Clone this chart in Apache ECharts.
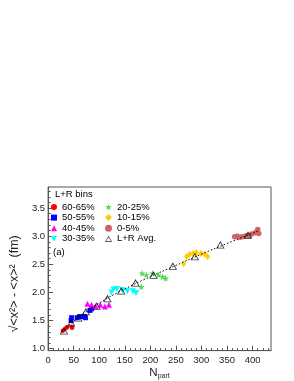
<!DOCTYPE html>
<html><head><meta charset="utf-8">
<script src="https://cdn.jsdelivr.net/npm/echarts@6/dist/echarts.min.js"></script>
<style>html,body{margin:0;padding:0;background:#fff}#c{width:294px;height:381px}</style>
</head><body><div id="c"></div><script>
const FONT = 'Liberation Sans';
const binNames = ['60-65%','50-55%','40-45%','30-35%','20-25%','10-15%','0-5%'];
const avgName = 'L+R Avg.';
const d60_65 = [[29,1.32],[34,1.36],[37,1.38],[46,1.39],[47,1.37]];
const d50_55 = [[45,1.50],[46,1.55],[57,1.55],[62,1.57],[71,1.57],[73,1.55],[82,1.68],[85,1.71]];
const d40_45 = [[77,1.80],[85,1.78],[93,1.76],[102,1.78],[111,1.75],[119,1.78]];
const d30_35 = [[124,2.00],[128,2.05],[135,2.06],[146,2.04],[155,2.02],[166,2.02],[172,1.99]];
const d20_25 = [[182,2.10],[184,2.34],[192,2.31],[204,2.34],[216,2.31],[224,2.28],[230,2.25]];
const d10_15 = [[265,2.51],[271,2.64],[277,2.68],[284,2.69],[290,2.71],[299,2.69],[306,2.68],[312,2.64]];
const d0_5 = [[365,2.99],[370,3.00],[375,2.98],[380,2.99],[387,3.01],[393,3.01],[398,3.04],[405,3.06],[410,3.12],[412,3.05]];
const avgLR = [[31,1.32],[45,1.46],[59,1.55],[74,1.66],[95,1.76],[116,1.89],[143,2.03],[171,2.17],[206,2.31],[244,2.47],[287,2.64],[337,2.85],[391,3.02]];
const fitLine = [[26,1.29],[60,1.56],[100,1.81],[150,2.06],[200,2.28],[250,2.48],[300,2.68],[350,2.87],[413,3.10]];
const xMajorTicks = [0,50,100,150,200,250,300,350,400];
const xMinorTicks = [10,20,30,40,60,70,80,90,110,120,130,140,160,170,180,190,210,220,230,240,260,270,280,290,310,320,330,340,360,370,380,390,410,420,430];
const yMajorTicks = [1.0,1.5,2.0,2.5,3.0,3.5];
const yMinorTicks = [1.1,1.2,1.3,1.4,1.6,1.7,1.8,1.9,2.1,2.2,2.3,2.4,2.6,2.7,2.8,2.9,3.1,3.2,3.3,3.4,3.6,3.7,3.8];
const X_MIN = 0, X_MAX = 436, Y_MIN = 0.965, Y_MAX = 3.875;

const STAR = 'path://M50,0 L61,35 L98,35 L68,57 L79,91 L50,70 L21,91 L32,57 L2,35 L39,35 Z';
const DOWN = 'path://M0,0 L10,0 L5,9 Z';
const OPEN_TRI = 'path://M5,0 L10,9 L0,9 Z M5,2.3 L1.5,8.1 L8.5,8.1 Z';
const axisCol = '#555';

const chart = echarts.init(document.getElementById('c'), null, {renderer:'canvas'});
function sc(name, data, symbol, size, color) {
  return {name, type:'scatter', data, symbol, symbolSize:size, itemStyle:{color, opacity:1}, z:3};
}
const legendText = {fontSize:9.5, color:'#000', fontFamily:FONT, lineHeight:10};
const option = {
  animation:false,
  textStyle:{fontFamily:FONT},
  grid:{left:35, right:23, top:187, bottom:29, show:true, borderColor:axisCol, borderWidth:1},
  xAxis:[
    {type:'value', min:X_MIN, max:X_MAX, position:'bottom',
     axisLine:{show:true, lineStyle:{color:axisCol}},
     axisTick:{show:true, inside:true, length:5, customValues:xMajorTicks, lineStyle:{color:axisCol}},
     axisLabel:{customValues:xMajorTicks, fontSize:9.5, color:'#222', margin:5, fontFamily:FONT},
     splitLine:{show:false},
     name:'{n|N}{s|part}', nameLocation:'middle', nameGap:12,
     nameTextStyle:{rich:{n:{fontSize:11.5, color:'#222', fontFamily:FONT}, s:{fontSize:7, color:'#222', fontFamily:FONT, padding:[8,0,0,0]}}}},
    {type:'value', min:X_MIN, max:X_MAX, position:'bottom',
     axisLine:{show:false},
     axisTick:{show:true, inside:true, length:2.5, customValues:xMinorTicks, lineStyle:{color:axisCol}},
     axisLabel:{show:false}, splitLine:{show:false}}
  ],
  yAxis:[
    {type:'value', min:Y_MIN, max:Y_MAX, position:'left',
     axisLine:{show:true, lineStyle:{color:axisCol}},
     axisTick:{show:true, inside:true, length:5, customValues:yMajorTicks, lineStyle:{color:axisCol}},
     axisLabel:{customValues:yMajorTicks, fontSize:9.5, color:'#222', margin:3, fontFamily:FONT,
       formatter:v=>v.toFixed(1)},
     splitLine:{show:false},
     name:'\u221A<x\u00B2> - <x>\u00B2  (fm)', nameLocation:'middle', nameGap:19,
     nameTextStyle:{fontSize:12.5, color:'#222', fontFamily:FONT, padding:[0,30,0,0]}},
    {type:'value', min:Y_MIN, max:Y_MAX, position:'left', offset:0,
     axisLine:{show:false},
     axisTick:{show:true, inside:true, length:2.5, customValues:yMinorTicks, lineStyle:{color:axisCol}},
     axisLabel:{show:false}, splitLine:{show:false}}
  ],
  legend:[
    {orient:'vertical', left:51, top:202, padding:0, itemWidth:6, itemHeight:6, itemGap:0.6,
     textStyle:legendText,
     data:[{name:binNames[0], icon:'circle'},{name:binNames[1], icon:'rect'},{name:binNames[2], icon:'triangle'},{name:binNames[3], icon:DOWN}]},
    {orient:'vertical', left:105, top:202, padding:0, itemWidth:7, itemHeight:7, itemGap:0.6,
     textStyle:legendText,
     data:[{name:binNames[4], icon:STAR},{name:binNames[5], icon:'diamond'},{name:binNames[6], icon:'circle'},{name:avgName, icon:OPEN_TRI}]}
  ],
  graphic:[
    {type:'text', left:55, top:189, style:{text:'L+R bins', fontSize:9.5, fill:'#000', fontFamily:FONT}},
    {type:'text', left:53, top:247, style:{text:'(a)', fontSize:9.5, fill:'#000', fontFamily:FONT}}
  ],
  series:[
    sc(binNames[0], d60_65, 'circle', 4.5, '#ff0000'),
    sc(binNames[1], d50_55, 'rect', 5, '#0000ff'),
    sc(binNames[2], d40_45, 'triangle', 6, '#ff00ff'),
    sc(binNames[3], d30_35, DOWN, 6, '#00ffff'),
    sc(binNames[4], d20_25, STAR, 7, '#55d84f'),
    sc(binNames[5], d10_15, 'diamond', [5,7], '#ffcc00'),
    sc(binNames[6], d0_5, 'circle', 5.5, '#d06464'),
    {name:'fit', type:'line', data:fitLine, smooth:true, showSymbol:false, symbol:'none',
     lineStyle:{color:'#000', width:1, type:[1.5,2]}, z:4},
    {name:avgName, type:'scatter', data:avgLR, symbol:OPEN_TRI, symbolSize:[8.5,7.5],
     itemStyle:{color:'#000'}, z:5}
  ]
};
chart.setOption(option);
</script></body></html>
